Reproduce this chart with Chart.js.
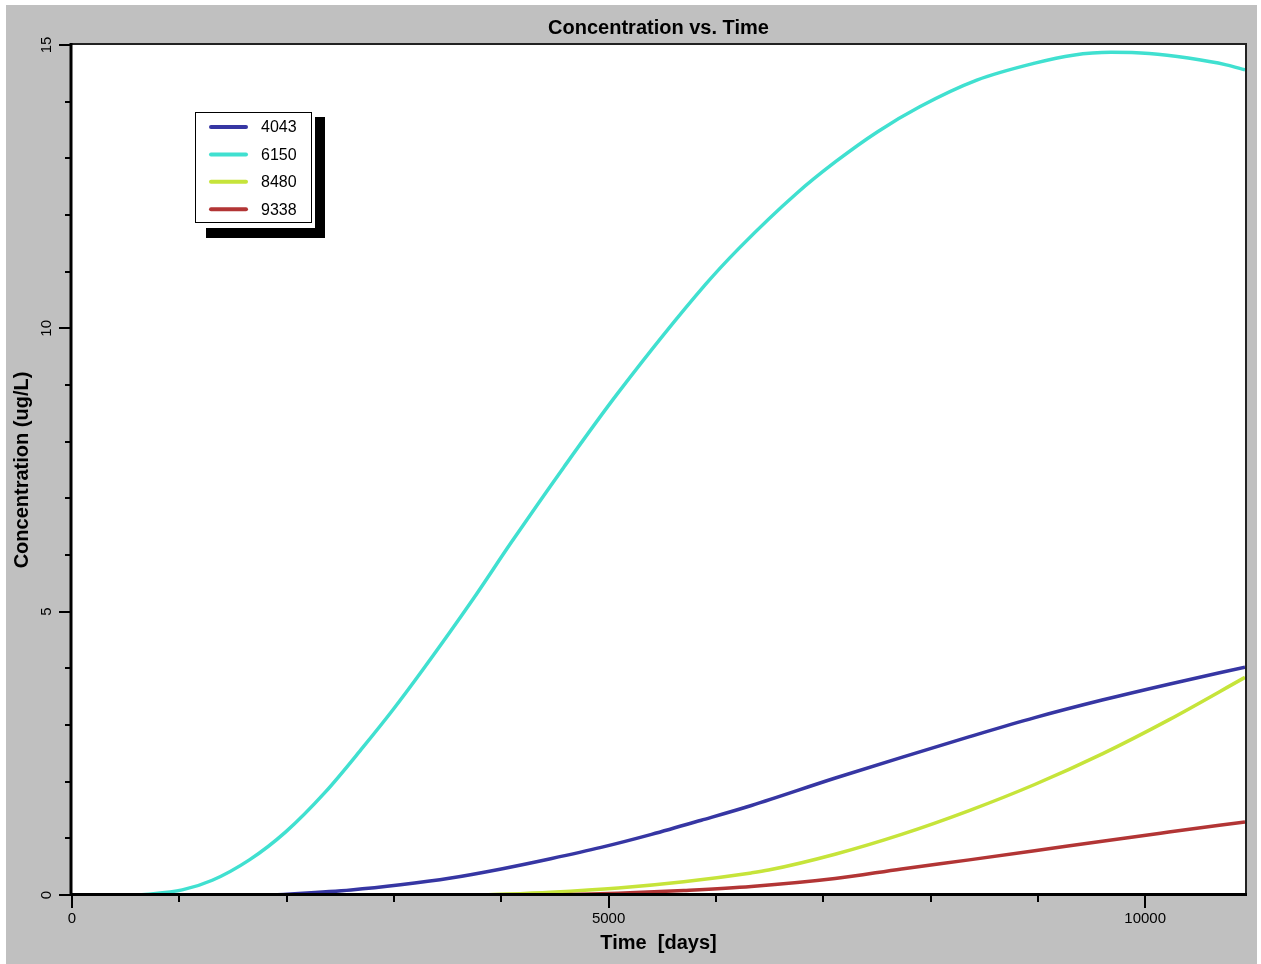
<!DOCTYPE html>
<html>
<head>
<meta charset="utf-8">
<title>Concentration vs. Time</title>
<script src="https://cdn.jsdelivr.net/npm/chart.js@4.4.0/dist/chart.umd.min.js"></script>
<style>
  html, body { margin: 0; padding: 0; background: #fff; }
  #c { display: block; }
</style>
</head>
<body>
<canvas id="c" width="1261" height="964"></canvas>
<script>
// values (time in days, concentration in ug/L)
const seriesNames = ['4043', '6150', '8480', '9338'];

const t4043 = [1870, 2600, 3060, 3530, 4000, 4460, 4930, 5400, 5864, 6331, 7106, 7731, 8357, 8972, 9599, 10220, 10930];
const c4043 = [0, 0.09, 0.18, 0.30, 0.46, 0.64, 0.84, 1.07, 1.32, 1.58, 2.06, 2.43, 2.79, 3.13, 3.44, 3.72, 4.02];

const t6150 = [626, 1027, 1307, 1653, 1989, 2362, 2708, 2987, 3267, 3733, 4089, 4583, 5088, 5901, 6219, 6751, 7115, 7507, 7899, 8431, 8972, 9327, 9682, 10037, 10401, 10756, 10930];
const c6150 = [0, 0.09, 0.26, 0.62, 1.11, 1.82, 2.60, 3.26, 3.97, 5.21, 6.21, 7.55, 8.86, 10.77, 11.42, 12.38, 12.94, 13.47, 13.91, 14.38, 14.68, 14.82, 14.87, 14.85, 14.77, 14.65, 14.56];

const t8480 = [3840, 4460, 5090, 5700, 6330, 6490, 7110, 7730, 8360, 8970, 9600, 10220, 10930];
const c8480 = [0, 0.05, 0.125, 0.235, 0.39, 0.44, 0.72, 1.07, 1.49, 1.95, 2.49, 3.09, 3.84];

const t9338 = [4460, 5090, 5700, 6330, 7110, 7730, 8360, 8970, 9600, 10220, 10930];
const c9338 = [0, 0.03, 0.08, 0.15, 0.29, 0.46, 0.62, 0.78, 0.95, 1.11, 1.29];

const xTicks = [0, 1000, 2000, 3000, 4000, 5000, 6000, 7000, 8000, 9000, 10000];
const xTickLabels = [0, 5000, 10000];
const yTicks = [0, 1, 2, 3, 4, 5, 6, 7, 8, 9, 10, 11, 12, 13, 14, 15];
const yTickLabels = [0, 5, 10, 15];

const colors = ['#3636a3', '#40e0d0', '#c6e43a', '#b23535'];
const FONT = "'Liberation Sans', Arial, sans-serif";

const zip = (t, c) => t.map((x, i) => ({ x, y: c[i] }));
const allT = [t4043, t6150, t8480, t9338];
const allC = [c4043, c6150, c8480, c9338];

// background, frame, ticks, title and the shadowed legend box
const framePlugin = {
  id: 'frame',
  beforeDraw(chart) {
    const { ctx, chartArea: a } = chart;
    ctx.save();
    ctx.fillStyle = '#fff';
    ctx.fillRect(0, 0, chart.width, chart.height);
    ctx.fillStyle = '#c0c0c0';
    ctx.fillRect(6, 5, chart.width - 10, chart.height - 5);
    ctx.fillStyle = '#fff';
    ctx.fillRect(a.left, a.top, a.right - a.left, a.bottom - a.top);
    ctx.restore();
  },
  afterDatasetsDraw(chart) {
    const { ctx, chartArea: a, scales: { x, y } } = chart;
    ctx.save();

    // thin top / right border
    ctx.strokeStyle = '#222';
    ctx.lineWidth = 2;
    ctx.beginPath();
    ctx.moveTo(a.left, a.top - 1); ctx.lineTo(a.right + 1, a.top - 1); ctx.lineTo(a.right + 1, a.bottom);
    ctx.stroke();

    // heavy left / bottom axes
    ctx.strokeStyle = '#000';
    ctx.lineWidth = 3;
    ctx.beginPath();
    ctx.moveTo(a.left - 1, a.top - 2); ctx.lineTo(a.left - 1, a.bottom - 0.5); ctx.lineTo(a.right + 2, a.bottom - 0.5);
    ctx.stroke();

    // tick marks (long at labelled values)
    ctx.lineWidth = 2;
    ctx.beginPath();
    x.ticks.forEach(tk => {
      const px = Math.round(x.getPixelForValue(tk.value));
      const len = xTickLabels.includes(tk.value) ? 13 : 7;
      ctx.moveTo(px, a.bottom); ctx.lineTo(px, a.bottom + len);
    });
    y.ticks.forEach(tk => {
      const py = Math.round(y.getPixelForValue(tk.value));
      const len = yTickLabels.includes(tk.value) ? 12 : 6;
      ctx.moveTo(a.left - 1 - len, py); ctx.lineTo(a.left - 1, py);
    });
    ctx.stroke();

    // rotated y tick labels
    ctx.fillStyle = '#000';
    ctx.font = '15px ' + FONT;
    ctx.textAlign = 'center';
    ctx.textBaseline = 'middle';
    yTickLabels.forEach(v => {
      ctx.save();
      ctx.translate(47, y.getPixelForValue(v));
      ctx.rotate(-Math.PI / 2);
      ctx.fillText(String(v), 0, 0);
      ctx.restore();
    });

    // title
    ctx.font = 'bold 20px ' + FONT;
    ctx.fillText('Concentration vs. Time', (a.left + a.right) / 2, 28);

    // legend with drop shadow
    ctx.fillStyle = '#000';
    ctx.fillRect(315, 117, 10, 121);
    ctx.fillRect(206, 228, 119, 10);
    ctx.fillStyle = '#fff';
    ctx.fillRect(195, 112, 117, 111);
    ctx.strokeStyle = '#000';
    ctx.lineWidth = 1;
    ctx.strokeRect(195.5, 112.5, 116, 110);
    ctx.font = '16px ' + FONT;
    ctx.textAlign = 'left';
    chart.data.datasets.forEach((ds, i) => {
      const ly = 127 + i * 27.4;
      ctx.strokeStyle = ds.borderColor;
      ctx.lineWidth = 4;
      ctx.lineCap = 'round';
      ctx.beginPath();
      ctx.moveTo(211, ly); ctx.lineTo(246, ly);
      ctx.stroke();
      ctx.fillStyle = '#000';
      ctx.fillText(ds.label, 261, ly + 1);
    });
    ctx.restore();
  }
};

new Chart(document.getElementById('c'), {
  type: 'line',
  data: {
    datasets: seriesNames.map((name, i) => ({
      label: name,
      data: zip(allT[i], allC[i]),
      borderColor: colors[i],
      borderWidth: 3.5,
      pointRadius: 0,
      fill: false,
      cubicInterpolationMode: 'monotone',
      borderJoinStyle: 'round',
      order: 3 - i
    }))
  },
  options: {
    responsive: false,
    animation: false,
    events: [],
    layout: { padding: { left: 0, top: 45, right: 16, bottom: 0 } },
    plugins: { legend: { display: false }, tooltip: { enabled: false }, title: { display: false } },
    scales: {
      x: {
        type: 'linear', min: 0, max: 10930,
        afterBuildTicks: s => { s.ticks = xTicks.map(v => ({ value: v })); },
        afterFit: s => { s.height = 69; },
        grid: { display: false, drawTicks: false },
        border: { display: false },
        ticks: {
          autoSkip: false, maxRotation: 0,
          padding: 15, color: '#000', font: { family: FONT, size: 15 },
          callback: v => xTickLabels.includes(v) ? String(v) : ''
        },
        title: {
          display: true, text: 'Time  [days]', color: '#000',
          font: { family: FONT, size: 20, weight: 'bold' },
          padding: { top: 0, bottom: 9 }
        }
      },
      y: {
        type: 'linear', min: 0, max: 15,
        afterBuildTicks: s => { s.ticks = yTicks.map(v => ({ value: v })); },
        afterFit: s => { s.width = 72; },
        grid: { display: false, drawTicks: false },
        border: { display: false },
        ticks: { display: false },
        title: {
          display: true, text: 'Concentration (ug/L)', color: '#000',
          font: { family: FONT, size: 20, weight: 'bold' },
          padding: { top: 10, bottom: 0 }
        }
      }
    }
  },
  plugins: [framePlugin]
});
</script>
</body>
</html>
